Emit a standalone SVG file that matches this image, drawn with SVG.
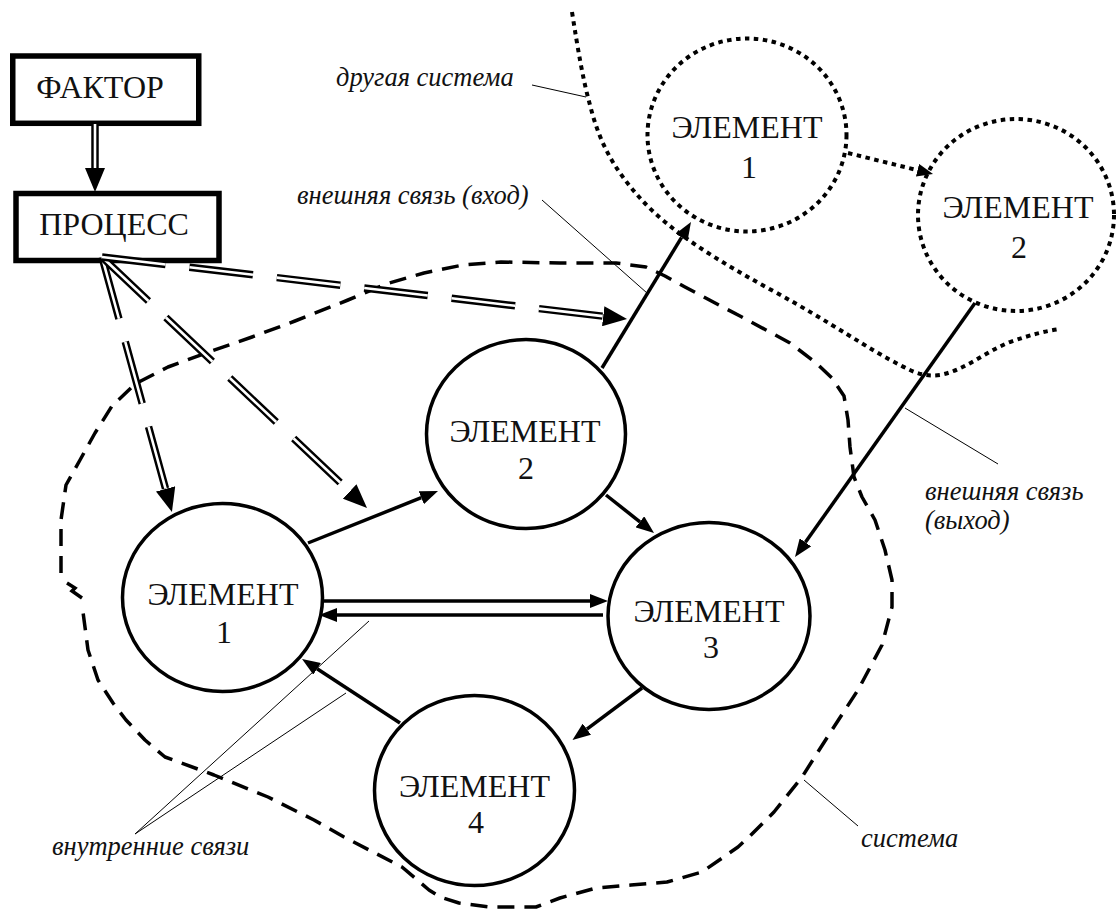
<svg xmlns="http://www.w3.org/2000/svg" width="1118" height="912" viewBox="0 0 1118 912">
<style>
.bg{fill:#fff}
.box{fill:#fff;stroke:#000;stroke-width:5.5}
.el{fill:#fff;stroke:#000;stroke-width:3.5}
.dotel{fill:#fff;stroke:#000;stroke-width:4;stroke-dasharray:4.5 4.5}
.t{font-family:'Liberation Serif',serif;font-size:32px;fill:#111;text-anchor:middle}
.lbl{font-family:'Liberation Serif',serif;font-size:26.5px;font-style:italic;fill:#111}
.sys{fill:none;stroke:#000;stroke-width:3.5;stroke-dasharray:17 10;stroke-linejoin:round}
.other{fill:none;stroke:#000;stroke-width:4;stroke-dasharray:4.5 4.5}
.sol{fill:none;stroke:#000;stroke-width:3.5}
.dotarr{fill:none;stroke:#000;stroke-width:4;stroke-dasharray:4.5 4.5}
.dblk{fill:none;stroke:#000;stroke-width:7.5}
.dwht{fill:none;stroke:#fff;stroke-width:2.6}
.dash{stroke-dasharray:64 24}
.lead{fill:none;stroke:#000;stroke-width:1}
</style>
<defs>
<marker id="hs" markerUnits="userSpaceOnUse" markerWidth="18" markerHeight="14" refX="0" refY="7" orient="auto"><path d="M0,0 L18,7 L0,14 z" fill="#000"/></marker>
<marker id="hd" markerUnits="userSpaceOnUse" markerWidth="24" markerHeight="20" refX="0" refY="10" orient="auto"><path d="M0,0 L24,10 L0,20 z" fill="#000"/></marker>
<marker id="ht" markerUnits="userSpaceOnUse" markerWidth="16" markerHeight="13" refX="0" refY="6.5" orient="auto"><path d="M0,0 L16,6.5 L0,13 z" fill="#000"/></marker>
</defs>
<rect class="bg" x="0" y="0" width="1118" height="912"/>

<g id="system-boundary">
<polyline class="sys" points="61,573 61,520 66,485 80,460 95,433 112,406 135,384 168,367 206,353 252,337 295,321 348,300 386,284 424,273 463,265 501,262 560,263 616,263 646,267 665,276 685,287 717,304 740,316 766,330 790,343 815,362 832,378 844,396 848,420 850,447 854,477 862,497 875,520 885,550 892,580 892,607 882,645 858,690 830,733 802,777 774,812 750,836 738,847 702,872 667,882 631,885 596,888 560,898 536,907 490,907 459,903 440,897 429,890 402,867 344,837 314,820 268,797 214,775 165,757 145,740 126,720 113,703 98,680 88,650 83,612"/>
<path d="M67,583 L75,588 L72,591 L82,598" fill="none" stroke="#000" stroke-width="3.5"/>
</g>

<g id="other-system">
<path class="other" d="M572,12 C578,50 583,80 590,105 C600,145 615,170 640,198 C670,232 720,262 775,292 C830,322 870,350 900,365 C915,373 925,377 940,375 C965,370 985,352 1010,342 C1030,335 1045,331 1060,329"/>
</g>

<g id="factor">
<rect class="box" x="12.75" y="56" width="186" height="67.3"/>
<text class="t" x="100" y="98">ФАКТОР</text>
</g>
<g id="process">
<rect class="box" x="16" y="193.5" width="203" height="67"/>
<text class="t" x="114" y="235">ПРОЦЕСС</text>
</g>

<g id="element1">
<ellipse class="el" cx="222.5" cy="597.5" rx="100" ry="94"/>
<text class="t" x="223" y="605">ЭЛЕМЕНТ</text>
<text class="t" x="224" y="643">1</text>
</g>
<g id="element2">
<ellipse class="el" cx="526" cy="434" rx="99.5" ry="94.5"/>
<text class="t" x="525" y="442">ЭЛЕМЕНТ</text>
<text class="t" x="526" y="479">2</text>
</g>
<g id="element3">
<ellipse class="el" cx="709" cy="616" rx="101" ry="93.5"/>
<text class="t" x="709" y="622">ЭЛЕМЕНТ</text>
<text class="t" x="711" y="658">3</text>
</g>
<g id="element4">
<ellipse class="el" cx="474.5" cy="790.5" rx="100" ry="95"/>
<text class="t" x="474.5" y="797">ЭЛЕМЕНТ</text>
<text class="t" x="476" y="833">4</text>
</g>
<g id="ext-element1">
<ellipse class="dotel" cx="747" cy="135" rx="99.5" ry="96.5"/>
<text class="t" x="747" y="138">ЭЛЕМЕНТ</text>
<text class="t" x="749" y="178">1</text>
</g>
<g id="ext-element2">
<ellipse class="dotel" cx="1016" cy="215" rx="98" ry="96"/>
<text class="t" x="1018" y="218">ЭЛЕМЕНТ</text>
<text class="t" x="1019" y="258">2</text>
</g>

<g id="connectors">
<path class="dblk" d="M95,124 L95,168" marker-end="url(#hd)"/>
<path class="dwht" d="M95,124 L95,168"/>
<path class="dblk dash" d="M102,257 L165.6,488.9" marker-end="url(#hd)"/>
<path class="dwht dash" d="M102,257 L165.6,488.9"/>
<path class="dblk dash" d="M102,257 L349.6,491.5" marker-end="url(#hd)"/>
<path class="dwht dash" d="M102,257 L349.6,491.5"/>
<path class="dblk dash" d="M102,257 L603.2,316.2" marker-end="url(#hd)"/>
<path class="dwht dash" d="M102,257 L603.2,316.2"/>
<path class="sol" d="M308,543 L421.3,497.7" marker-end="url(#hs)"/>
<path class="sol" d="M606,495 L639.9,521.8" marker-end="url(#hs)"/>
<path class="sol" d="M323,601 L590,601" marker-end="url(#hs)"/>
<path class="sol" d="M603,615 L337,615" marker-end="url(#hs)"/>
<path class="sol" d="M642,688 L586.9,729.2" marker-end="url(#hs)"/>
<path class="sol" d="M400,723 L317.1,668.8" marker-end="url(#hs)"/>
<path class="sol" d="M602,368 L681.6,237.4" marker-end="url(#hs)"/>
<path class="sol" d="M975,303 L805.4,542.3" marker-end="url(#hs)"/>
<path class="dotarr" d="M848,153 L917.5,170.2" marker-end="url(#ht)"/>
</g>

<g id="labels">
<path class="lead" d="M532,85 L586,97"/>
<text class="lbl" x="336" y="86">другая система</text>
<path class="lead" d="M542,200 L647,293"/>
<text class="lbl" x="297" y="204">внешняя связь (вход)</text>
<path class="lead" d="M905,408 L998,464"/>
<text class="lbl" x="925" y="500">внешняя связь</text>
<text class="lbl" x="925" y="529">(выход)</text>
<path class="lead" d="M804,780 L858,826"/>
<text class="lbl" x="861" y="847">система</text>
<path class="lead" d="M135,834 L369,621 M135,834 L346,693"/>
<text class="lbl" x="52" y="855">внутренние связи</text>
</g>
</svg>
